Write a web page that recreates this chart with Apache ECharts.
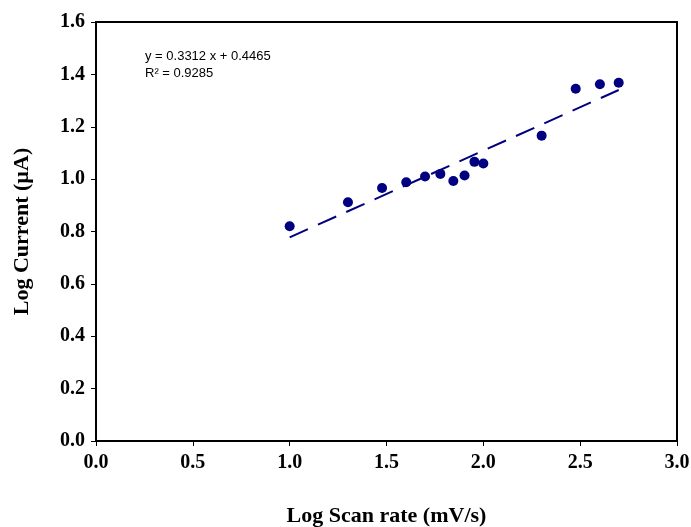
<!DOCTYPE html>
<html>
<head>
<meta charset="utf-8">
<script src="https://cdn.jsdelivr.net/npm/echarts@6/dist/echarts.min.js"></script>
<style>
  html, body { margin: 0; padding: 0; background: #fff; }
  #chart { width: 691px; height: 527px; }
</style>
</head>
<body>
<div id="chart"></div>
<script>
// log10 of scan rate (mV/s) and log10 of peak current (uA)
const logScanRate = [1.0, 1.301, 1.477, 1.602, 1.699, 1.778, 1.845, 1.903, 1.954, 2.0, 2.301, 2.477, 2.602, 2.699];
const logCurrent = [0.82, 0.912, 0.966, 0.988, 1.010, 1.020, 0.993, 1.014, 1.066, 1.060, 1.166, 1.345, 1.362, 1.368];
const fitSlope = 0.3312;
const fitIntercept = 0.4465;
const fitLabel = ['y = 0.3312 x + 0.4465', 'R\u00b2 = 0.9285'];

const points = logScanRate.map((x, i) => [x, logCurrent[i]]);
const xMin = Math.min(...logScanRate);
const xMax = Math.max(...logScanRate);
const fitLine = [xMin, xMax].map(x => [x, fitSlope * x + fitIntercept]);

const chart = echarts.init(document.getElementById('chart'), null, { renderer: 'canvas' });

const serif = '"Liberation Serif", "Times New Roman", serif';
const tickFont = { fontFamily: serif, fontWeight: 'bold', fontSize: 20, color: '#000' };
const nameFont = { fontFamily: serif, fontWeight: 'bold', fontSize: 22, color: '#000' };

chart.setOption({
  animation: false,
  backgroundColor: '#fff',
  grid: {
    left: 96, right: 14, top: 22, bottom: 86,
    outerBoundsMode: 'none',
    show: true, borderColor: '#000', borderWidth: 2,
  },
  graphic: [{
    type: 'text',
    left: 145, top: 48,
    style: {
      text: fitLabel.join('\n'),
      font: '13px "Liberation Sans", Arial, sans-serif',
      lineHeight: 17,
      fill: '#000',
    },
  }],
  xAxis: {
    type: 'value',
    min: 0, max: 3, interval: 0.5,
    name: 'Log Scan rate (mV/s)',
    nameLocation: 'middle',
    nameGap: 64,
    nameTextStyle: nameFont,
    axisLine: { onZero: false, lineStyle: { color: '#000', width: 2 } },
    axisTick: { length: 5, lineStyle: { color: '#000', width: 1 } },
    axisLabel: { ...tickFont, margin: 12, formatter: v => v.toFixed(1) },
    splitLine: { show: false },
  },
  yAxis: {
    type: 'value',
    min: 0, max: 1.6, interval: 0.2,
    name: 'Log Current (\u00b5A)',
    nameLocation: 'middle',
    nameGap: 63,
    nameRotate: 90,
    nameTextStyle: nameFont,
    axisLine: { onZero: false, lineStyle: { color: '#000', width: 2 } },
    axisTick: { length: 5, lineStyle: { color: '#000', width: 1 } },
    axisLabel: { ...tickFont, margin: 11, formatter: v => v.toFixed(1) },
    splitLine: { show: false },
  },
  series: [
    {
      type: 'line',
      data: fitLine,
      showSymbol: false,
      lineStyle: { color: '#000080', width: 2, type: [20, 11] },
      z: 2,
    },
    {
      type: 'scatter',
      data: points,
      symbol: 'circle',
      symbolSize: 10,
      itemStyle: { color: '#000080', opacity: 1 },
      z: 3,
    },
  ],
});
</script>
</body>
</html>
